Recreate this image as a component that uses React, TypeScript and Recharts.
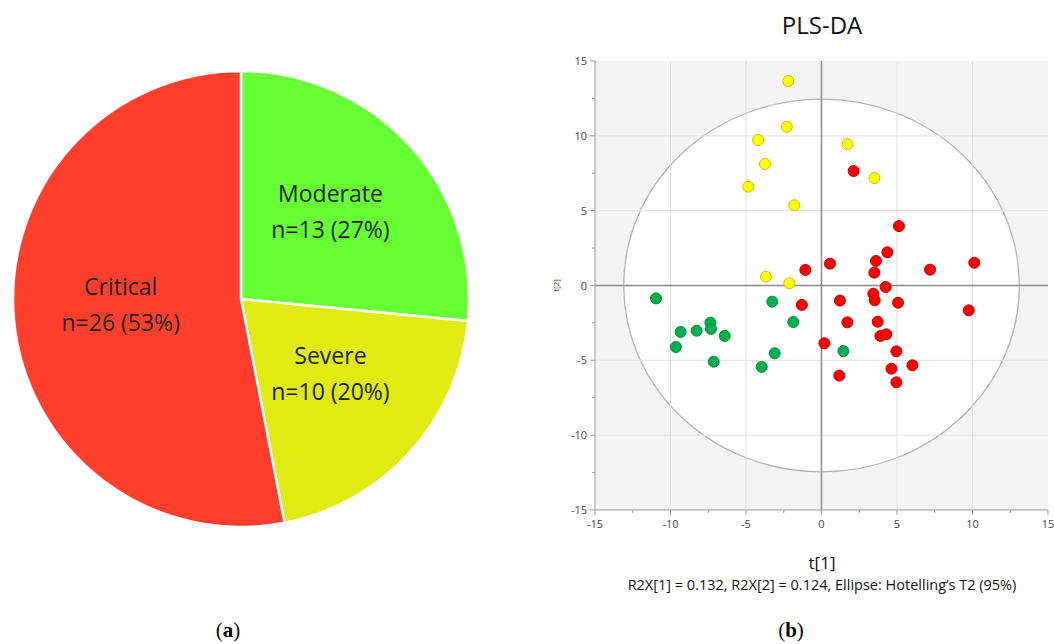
import {
  Cell,
  Pie,
  PieChart,
  ReferenceArea,
  ReferenceLine,
  Scatter,
  ScatterChart,
  XAxis,
  YAxis,
} from "recharts";

// (a) severity split
const groupNames = ["Moderate", "Severe", "Critical"];
const groupCounts = [13, 10, 26];
const groupPercents = ["27%", "20%", "53%"];
const groupColors = ["#66FF33", "#E0EB14", "#FF3F2C"];

// (b) PLS-DA scores t[1], t[2]
const severeT1 = [-2.2, -2.3, -4.2, -3.74, -4.85, -1.8, -3.68, -2.13, 1.73, 3.5];
const severeT2 = [13.66, 10.6, 9.72, 8.12, 6.6, 5.36, 0.59, 0.15, 9.45, 7.18];

const criticalT1 = [
  2.13, 5.13, 4.36, 3.61, 3.5, 0.56, -1.07, 7.19, 10.12, 4.25, 3.43, 3.52, 1.22,
  -1.3, 5.07, 9.75, 1.71, 3.72, 3.9, 4.29, 0.19, 4.96, 6.02, 4.63, 1.18, 4.96,
];
const criticalT2 = [
  7.65, 3.97, 2.22, 1.64, 0.86, 1.46, 1.04, 1.06, 1.52, -0.1, -0.55, -0.99, -1.01,
  -1.3, -1.15, -1.66, -2.46, -2.42, -3.37, -3.26, -3.86, -4.4, -5.33, -5.56, -6.02, -6.47,
];

const moderateT1 = [-10.96, -3.26, -1.87, -9.33, -8.27, -7.36, -7.32, -6.41, -9.64, -3.1, -7.14, -3.96, 1.45];
const moderateT2 = [-0.86, -1.08, -2.44, -3.1, -3.02, -2.48, -2.9, -3.37, -4.11, -4.53, -5.09, -5.44, -4.38];

const axisTicks = [-15, -12.5, -10, -7.5, -5, -2.5, 0, 2.5, 5, 7.5, 10, 12.5, 15];
const gridValues = [-10, -5, 5, 10];
// Hotelling's T2 (95%) ellipse semi-axes
const ellipseT1 = 13.1;
const ellipseT2 = 12.45;

const pieData = groupNames.map((name, i) => ({
  name,
  value: groupCounts[i],
  pct: groupPercents[i],
}));

const toPoints = (xs: number[], ys: number[]) => xs.map((x, i) => ({ x, y: ys[i] }));
const severePts = toPoints(severeT1, severeT2);
const criticalPts = toPoints(criticalT1, criticalT2);
const moderatePts = toPoints(moderateT1, moderateT2);

const RAD = Math.PI / 180;

const pieLabel = (p: any) => {
  const r = p.outerRadius * 0.53;
  const x = p.cx + r * Math.cos(-p.midAngle * RAD);
  const y = p.cy + r * Math.sin(-p.midAngle * RAD);
  const d = pieData[p.index];
  return (
    <text
      x={x}
      y={y}
      textAnchor="middle"
      fill="#1e1e1e"
      fontFamily="'Open Sans', sans-serif"
      fontSize={23}
    >
      <tspan x={x} dy={-16}>
        {d.name}
      </tspan>
      <tspan x={x} dy={36}>
        {`n=${d.value} (${d.pct})`}
      </tspan>
    </text>
  );
};

const XTick = (p: any) => {
  const v = p.payload.value;
  const major = v % 5 === 0;
  return (
    <g>
      <line x1={p.x} x2={p.x} y1={p.y} y2={p.y + (major ? 5 : 3)} stroke="#999" />
      {major && (
        <text x={p.x} y={p.y + 18} textAnchor="middle" fontSize={11} fill="#444" fontFamily="'Open Sans', sans-serif">
          {v}
        </text>
      )}
    </g>
  );
};

const YTick = (p: any) => {
  const v = p.payload.value;
  const major = v % 5 === 0;
  return (
    <g>
      <line x1={p.x - (major ? 5 : 3)} x2={p.x} y1={p.y} y2={p.y} stroke="#999" />
      {major && (
        <text x={p.x - 8} y={p.y + 4} textAnchor="end" fontSize={11} fill="#444" fontFamily="'Open Sans', sans-serif">
          {v}
        </text>
      )}
    </g>
  );
};

const dot = (fill: string, stroke: string) => (p: any) =>
  <circle cx={p.cx} cy={p.cy} r={5.5} fill={fill} stroke={stroke} strokeWidth={1} />;

const ellipseShape = (p: any) => (
  <ellipse
    cx={p.x + p.width / 2}
    cy={p.y + p.height / 2}
    rx={p.width / 2}
    ry={p.height / 2}
    fill="#fff"
    stroke="#b4b4b4"
    strokeWidth={1.3}
  />
);

export default function App() {
  return (
    <div
      style={{
        position: "absolute",
        left: 0,
        top: 0,
        width: 1054,
        height: 644,
        background: "#fff",
        fontFamily: "'Open Sans', sans-serif",
      }}
    >
      <div style={{ position: "absolute", left: 0, top: 0 }}>
        <PieChart width={480} height={560} margin={{ top: 0, right: 0, bottom: 0, left: 0 }}>
          <Pie
            data={pieData}
            dataKey="value"
            cx={241}
            cy={299}
            outerRadius={228}
            startAngle={90}
            endAngle={-270}
            stroke="#fff"
            strokeWidth={2.5}
            label={pieLabel}
            labelLine={false}
            isAnimationActive={false}
          >
            {pieData.map((d, i) => (
              <Cell key={d.name} fill={groupColors[i]} />
            ))}
          </Pie>
        </PieChart>
      </div>

      <div style={{ position: "absolute", left: 540, top: 0 }}>
        <ScatterChart width={514} height={560} margin={{ top: 61, right: 6, left: 0, bottom: 20 }}>
          <XAxis
            type="number"
            dataKey="x"
            domain={[-15, 15]}
            ticks={axisTicks}
            interval={0}
            tickSize={0}
            tickMargin={0}
            tick={XTick}
            height={30}
            stroke="#999"
          />
          <YAxis
            type="number"
            dataKey="y"
            domain={[-15, 15]}
            ticks={axisTicks}
            interval={0}
            tickSize={0}
            tickMargin={0}
            tick={YTick}
            width={55}
            stroke="#999"
            label={{
              content: (lp: any) => {
                const vb = lp.viewBox;
                const x = vb.x + 19;
                const y = vb.y + vb.height / 2;
                return (
                  <text x={x} y={y} transform={`rotate(-90 ${x} ${y})`} textAnchor="middle" fontSize={8} fill="#444">
                    t[2]
                  </text>
                );
              },
            }}
          />
          <ReferenceArea x1={-15} x2={15} y1={-15} y2={15} fill="#f4f4f4" fillOpacity={1} stroke="none" />
          <ReferenceArea
            x1={-ellipseT1}
            x2={ellipseT1}
            y1={-ellipseT2}
            y2={ellipseT2}
            shape={ellipseShape}
          />
          {gridValues.map((v) => (
            <ReferenceLine key={`gx${v}`} x={v} stroke="#e0e0e0" />
          ))}
          {gridValues.map((v) => (
            <ReferenceLine key={`gy${v}`} y={v} stroke="#e0e0e0" />
          ))}
          <ReferenceLine x={0} stroke="#8a8a8a" strokeWidth={1.5} />
          <ReferenceLine y={0} stroke="#8a8a8a" strokeWidth={1.5} />
          <Scatter data={severePts} shape={dot("#FFFF00", "#C8C000")} isAnimationActive={false} />
          <Scatter data={criticalPts} shape={dot("#FF0000", "#C00000")} isAnimationActive={false} />
          <Scatter data={moderatePts} shape={dot("#00B050", "#008A3A")} isAnimationActive={false} />
        </ScatterChart>
      </div>

      <div style={{ position: "absolute", left: 722, width: 200, top: 9, textAlign: "center", fontSize: 24, color: "#111", lineHeight: "32px" }}>
        PLS-DA
      </div>
      <div style={{ position: "absolute", left: 722, width: 200, top: 551, textAlign: "center", fontSize: 17, color: "#111", lineHeight: "24px" }}>
        t[1]
      </div>
      <div style={{ position: "absolute", left: 522, width: 600, top: 575, textAlign: "center", fontSize: 14.5, color: "#111", lineHeight: "20px" }}>
        R2X[1] = 0.132, R2X[2] = 0.124, Ellipse: Hotelling’s T2 (95%)
      </div>

      <div style={{ position: "absolute", left: 178, width: 100, top: 616, textAlign: "center", fontFamily: "'Liberation Serif', serif", fontSize: 21, lineHeight: "28px", color: "#000" }}>
        (<b>a</b>)
      </div>
      <div style={{ position: "absolute", left: 741, width: 100, top: 616, textAlign: "center", fontFamily: "'Liberation Serif', serif", fontSize: 21, lineHeight: "28px", color: "#000" }}>
        (<b>b</b>)
      </div>
    </div>
  );
}
